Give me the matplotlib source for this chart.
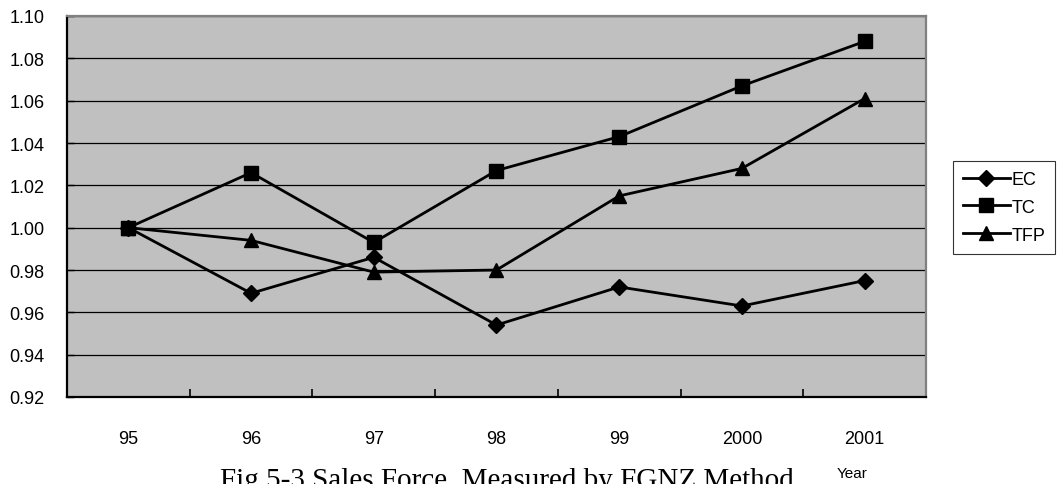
import matplotlib.pyplot as plt

plt.rcParams['font.family'] = ['Liberation Sans', 'DejaVu Sans']

# data
years = ['95', '96', '97', '98', '99', '2000', '2001']
ec = [1.000, 0.969, 0.986, 0.954, 0.972, 0.963, 0.975]
tc = [1.000, 1.026, 0.993, 1.027, 1.043, 1.067, 1.088]
tfp = [1.000, 0.994, 0.979, 0.980, 1.015, 1.028, 1.061]
yticks = [0.92, 0.94, 0.96, 0.98, 1.00, 1.02, 1.04, 1.06, 1.08, 1.10]

fig = plt.figure(figsize=(10.59, 4.85), dpi=100)
ax = fig.add_axes([67 / 1059, 1 - 398 / 485, (926 - 67) / 1059, (398 - 17) / 485])
ax.set_facecolor('#c0c0c0')

x = list(range(len(years)))
ax.plot(x, ec, color='black', lw=2, marker='D', ms=8, label='EC', zorder=3)
ax.plot(x, tc, color='black', lw=2, marker='s', ms=10, label='TC', zorder=3)
ax.plot(x, tfp, color='black', lw=2, marker='^', ms=10, label='TFP', zorder=3)

ax.set_xlim(-0.5, len(years) - 0.5)
ax.set_ylim(0.92, 1.10)
ax.set_yticks(yticks)
ax.set_yticklabels(['%.2f' % v for v in yticks], fontsize=13)
ax.yaxis.grid(True, color='black', lw=0.9)
ax.set_axisbelow(True)

ax.set_xticks(x)
ax.set_xticklabels(years, fontsize=13)
ax.set_xticks([i + 0.5 for i in range(len(years) - 1)], minor=True)
ax.tick_params(axis='x', which='major', length=0, pad=24)
ax.tick_params(axis='x', which='minor', direction='in', length=6, width=1.2)
ax.tick_params(axis='y', direction='in', length=5, width=1, pad=16)

for s in ['left', 'bottom']:
    ax.spines[s].set_color('black')
    ax.spines[s].set_linewidth(1.6)
for s in ['top', 'right']:
    ax.spines[s].set_color('#808080')
    ax.spines[s].set_linewidth(1.6)

leg = fig.legend(loc='upper left', bbox_to_anchor=(953 / 1059, 1 - 162 / 485),
                 fontsize=13, frameon=True, fancybox=False, edgecolor='black',
                 handlelength=2.6, handletextpad=0.1, borderpad=0.55, labelspacing=0.6,
                 borderaxespad=0)
leg.get_frame().set_linewidth(0.8)

fig.text(507 / 1059, 1 - 468 / 485, 'Fig 5-3 Sales Force  Measured by FGNZ Method',
         family='Liberation Serif', fontsize=21, ha='center', va='top')
fig.text(852 / 1059, 1 - 474 / 485, 'Year', fontsize=11, ha='center', va='center')

fig.savefig('out.png', dpi=100)
